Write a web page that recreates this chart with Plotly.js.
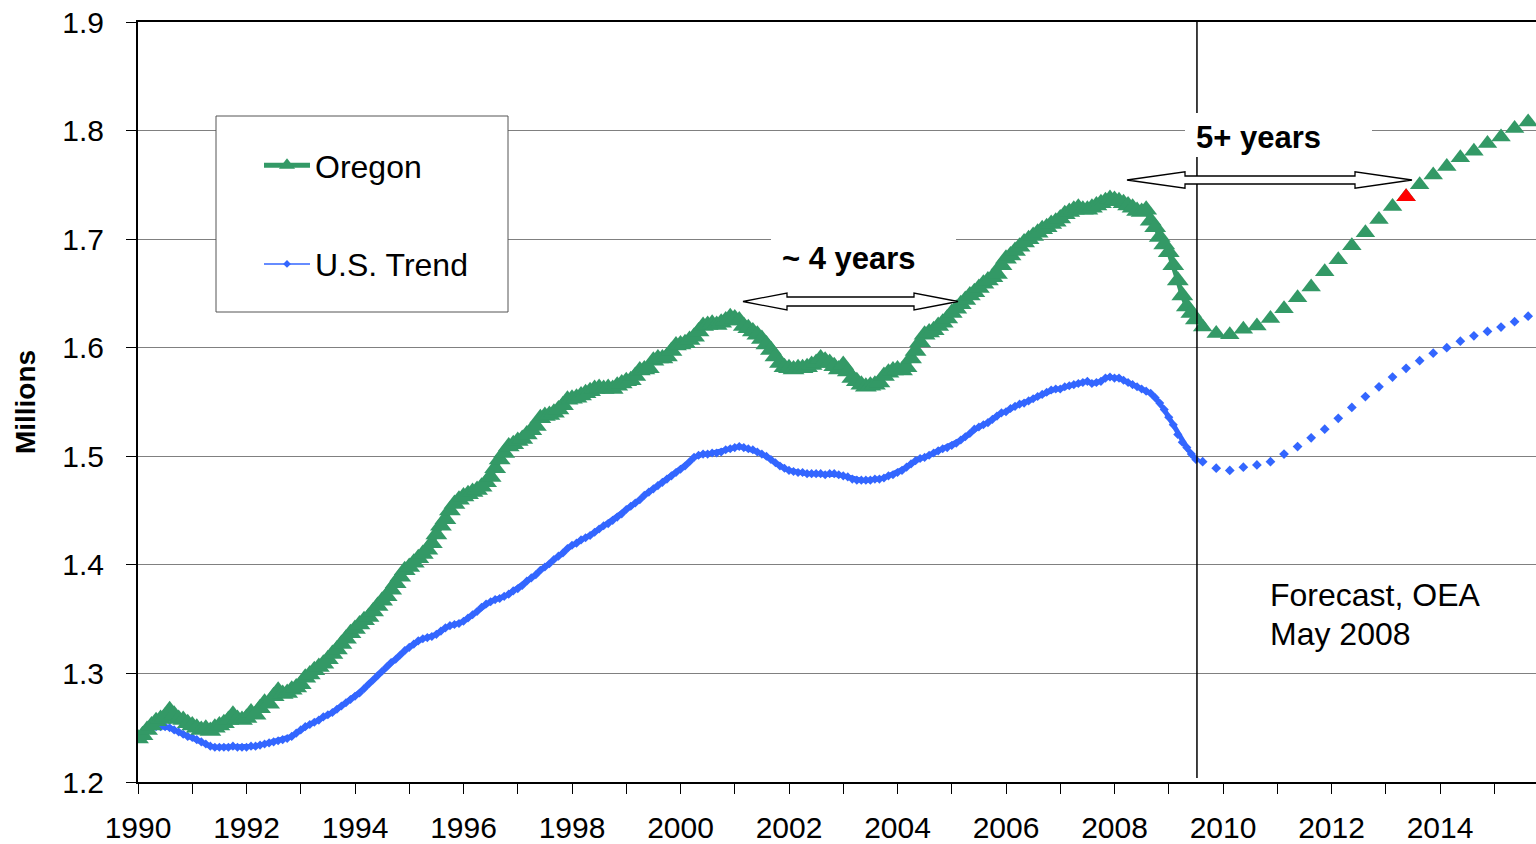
<!DOCTYPE html>
<html><head><meta charset="utf-8">
<script src="https://cdn.plot.ly/plotly-3.0.1.min.js"></script>
<style>html,body{margin:0;padding:0;background:#fff;overflow:hidden}#chart{width:1536px;height:844px}</style>
</head><body><div id="chart"></div>
<script>
// ---------- DATA ----------
const seriesNames = ['Oregon', 'U.S. Trend'];
const monthlyStartYear = 1990;           // first monthly observation (Jan 1990)
const oregonMonthly = [
  1.240,1.243,1.248,1.252,1.256,1.258,1.260,1.266,1.262,1.258,1.257,1.254,
  1.252,1.250,1.248,1.249,1.247,1.250,1.252,1.254,1.257,1.262,1.258,1.257,
  1.259,1.264,1.262,1.268,1.273,1.272,1.279,1.284,1.281,1.282,1.285,1.287,
  1.290,1.296,1.299,1.303,1.306,1.309,1.313,1.318,1.322,1.327,1.332,1.337,
  1.341,1.345,1.349,1.352,1.357,1.362,1.367,1.371,1.377,1.383,1.389,1.395,
  1.398,1.402,1.406,1.410,1.414,1.420,1.428,1.436,1.442,1.450,1.456,1.460,
  1.463,1.465,1.467,1.469,1.472,1.476,1.481,1.489,1.497,1.503,1.509,1.511,
  1.514,1.516,1.520,1.524,1.528,1.535,1.537,1.538,1.540,1.543,1.547,1.552,
  1.553,1.554,1.556,1.558,1.560,1.562,1.563,1.562,1.563,1.562,1.565,1.567,
  1.569,1.570,1.574,1.579,1.580,1.581,1.588,1.590,1.590,1.592,1.597,1.602,
  1.603,1.604,1.607,1.610,1.615,1.620,1.621,1.622,1.621,1.623,1.625,1.628,
  1.627,1.625,1.620,1.618,1.615,1.612,1.608,1.603,1.598,1.592,1.586,1.582,
  1.581,1.580,1.581,1.581,1.582,1.584,1.586,1.590,1.588,1.586,1.583,1.580,
  1.584,1.578,1.572,1.569,1.566,1.564,1.565,1.566,1.568,1.574,1.577,1.579,
  1.580,1.579,1.582,1.590,1.597,1.605,1.612,1.614,1.616,1.620,1.623,1.627,
  1.632,1.636,1.640,1.644,1.648,1.651,1.655,1.659,1.662,1.665,1.668,1.676,
  1.682,1.685,1.689,1.693,1.697,1.700,1.703,1.706,1.709,1.711,1.714,1.716,
  1.719,1.723,1.725,1.727,1.729,1.727,1.727,1.729,1.731,1.733,1.735,1.737,
  1.736,1.735,1.733,1.731,1.729,1.726,1.725,1.727,1.717,1.711,1.702,1.695,
  1.688,1.676,1.662,1.648,1.638,1.632,1.626
];
const usMonthly = [
  1.242,1.245,1.248,1.250,1.251,1.251,1.251,1.250,1.248,1.246,1.244,1.242,
  1.241,1.239,1.237,1.235,1.233,1.232,1.232,1.232,1.232,1.233,1.232,1.232,
  1.232,1.233,1.233,1.234,1.235,1.236,1.237,1.238,1.239,1.240,1.242,1.245,
  1.248,1.251,1.253,1.255,1.257,1.260,1.262,1.264,1.267,1.270,1.273,1.276,
  1.279,1.282,1.286,1.290,1.294,1.298,1.302,1.306,1.310,1.313,1.317,1.321,
  1.324,1.327,1.330,1.332,1.333,1.334,1.336,1.339,1.342,1.344,1.345,1.346,
  1.348,1.351,1.354,1.357,1.361,1.364,1.366,1.368,1.369,1.371,1.373,1.376,
  1.378,1.381,1.385,1.388,1.391,1.395,1.398,1.401,1.405,1.408,1.411,1.415,
  1.418,1.420,1.423,1.425,1.427,1.430,1.433,1.436,1.438,1.441,1.444,1.447,
  1.451,1.454,1.457,1.460,1.464,1.467,1.470,1.473,1.476,1.479,1.482,1.485,
  1.488,1.491,1.495,1.499,1.501,1.502,1.502,1.503,1.503,1.504,1.506,1.507,
  1.508,1.509,1.508,1.507,1.506,1.504,1.502,1.500,1.497,1.494,1.491,1.489,
  1.487,1.486,1.485,1.485,1.484,1.484,1.484,1.484,1.483,1.484,1.484,1.483,
  1.482,1.481,1.479,1.478,1.478,1.478,1.478,1.479,1.479,1.480,1.482,1.483,
  1.485,1.487,1.490,1.493,1.496,1.498,1.499,1.501,1.503,1.505,1.507,1.508,
  1.510,1.512,1.515,1.518,1.521,1.525,1.527,1.529,1.531,1.534,1.537,1.540,
  1.541,1.544,1.546,1.548,1.549,1.551,1.553,1.555,1.557,1.559,1.561,1.562,
  1.562,1.564,1.565,1.566,1.567,1.568,1.569,1.567,1.568,1.569,1.572,1.573,
  1.572,1.572,1.570,1.568,1.566,1.564,1.562,1.560,1.558,1.554,1.549,1.543,
  1.536,1.529,1.520,1.513,1.508,1.502,1.497
];
const forecastStartYear = 2009.625;       // first quarterly forecast point
const oregonForecast = [1.619,1.613,1.612,1.617,1.620,1.627,1.636,1.646,1.656,1.670,1.681,1.694,1.706,1.718,1.730,1.739,1.750,1.759,1.767,1.775,1.781,1.788,1.794,1.802,1.808];
const usForecast     = [1.495,1.489,1.487,1.490,1.492,1.495,1.502,1.509,1.517,1.525,1.535,1.545,1.555,1.564,1.573,1.581,1.588,1.595,1.600,1.606,1.611,1.615,1.619,1.624,1.629];
const highlightIndex = 15;                // forecast quarter back at the pre-recession peak (red)
const tickYears  = [1990,1991,1992,1993,1994,1995,1996,1997,1998,1999,2000,2001,2002,2003,2004,2005,2006,2007,2008,2009,2010,2011,2012,2013,2014,2015];
const tickLabels = ['1990','','1992','','1994','','1996','','1998','','2000','','2002','','2004','','2006','','2008','','2010','','2012','','2014',''];
const yTicks = [1.2,1.3,1.4,1.5,1.6,1.7,1.8,1.9];
const forecastLineYear = 2009.52;
const labelTexts = {four:'~ 4 years', five:'5+ years', f1:'Forecast, OEA', f2:'May 2008', ytitle:'Millions'};

// ---------- GEOMETRY ----------
const W = 1536, H = 844, ML = 138, MT = 22, MR = 0, MB = 62;
const PW = W - ML - MR, PH = H - MT - MB;
const XR = [1990, 1990 + PW / 54.25], YR = [1.2, 1.9];
const px2x = p => XR[0] + (p - ML) / PW * (XR[1] - XR[0]);
const py2y = p => YR[1] - (p - MT) / PH * (YR[1] - YR[0]);
const px2paper = p => (p - ML) / PW;
const py2paper = p => (H - MB - p) / PH;

const GREEN = '#339966', BLUE = '#3366ff', RED = '#ff0000';
const FONT = 'Liberation Sans, Arial, Helvetica, sans-serif';

const mX = oregonMonthly.map((_, i) => monthlyStartYear + i / 12);
const uX = usMonthly.map((_, i) => monthlyStartYear + i / 12);
const fX = oregonForecast.map((_, i) => forecastStartYear + i * 0.25);

const traces = [
  {x: uX, y: usMonthly, mode: 'lines+markers', line: {color: BLUE, width: 5}, marker: {symbol: 'diamond', size: 7, color: BLUE}, showlegend: false},
  {x: fX, y: usForecast, mode: 'markers', marker: {symbol: 'diamond', size: 7.5, color: BLUE}, showlegend: false},
  {x: mX, y: oregonMonthly, mode: 'lines+markers', line: {color: GREEN, width: 5}, marker: {symbol: 'triangle-up', size: 19, color: GREEN}, showlegend: false},
  {x: fX, y: oregonForecast, mode: 'markers', marker: {symbol: 'triangle-up', size: 17, color: GREEN}, showlegend: false},
  {x: [fX[highlightIndex]], y: [oregonForecast[highlightIndex]], mode: 'markers', marker: {symbol: 'triangle-up', size: 17, color: RED}, showlegend: false},
  // legend entries
  {x: [null], y: [null], name: seriesNames[0], mode: 'lines+markers', line: {color: GREEN, width: 5}, marker: {symbol: 'triangle-up', size: 14, color: GREEN}, legendgroup: 'a'},
  {x: [null], y: [null], name: seriesNames[1], mode: 'lines+markers', line: {color: BLUE, width: 1.5}, marker: {symbol: 'diamond', size: 6, color: BLUE}, legendgroup: 'b'}
];

function arrowPath(tipL, tipR, baseL, baseR, yc, sh, hh) {
  const pts = [[tipL, yc], [baseL, yc - hh], [baseL, yc - sh], [baseR, yc - sh], [baseR, yc - hh], [tipR, yc],
               [baseR, yc + hh], [baseR, yc + sh], [baseL, yc + sh], [baseL, yc + hh]];
  return pts.map((p, i) => (i ? 'L' : 'M') + px2x(p[0]).toFixed(4) + ',' + py2y(p[1]).toFixed(5)).join(' ') + ' Z';
}

const shapes = [
  {type: 'line', xref: 'x', yref: 'y', x0: forecastLineYear, x1: forecastLineYear, y0: py2y(778), y1: YR[1], line: {color: '#000', width: 1.5}, layer: 'above'},
  {type: 'rect', xref: 'x', yref: 'y', x0: px2x(1185), x1: px2x(1372), y0: py2y(157), y1: py2y(113), fillcolor: '#fff', line: {width: 0}, layer: 'above'},
  {type: 'rect', xref: 'x', yref: 'y', x0: px2x(771), x1: px2x(956), y0: py2y(285), y1: py2y(230), fillcolor: '#fff', line: {width: 0}, layer: 'above'},
  {type: 'path', xref: 'x', yref: 'y', path: arrowPath(743, 958, 787, 914, 301.5, 4.5, 8.5), fillcolor: '#fff', line: {color: '#000', width: 1.3}, layer: 'above'},
  {type: 'path', xref: 'x', yref: 'y', path: arrowPath(1127, 1412, 1185, 1355, 180, 4, 8.2), fillcolor: '#fff', line: {color: '#000', width: 1.3}, layer: 'above'},
  // legend frame
  {type: 'rect', xref: 'paper', yref: 'paper', x0: px2paper(216), x1: px2paper(508), y0: py2paper(312), y1: py2paper(116), fillcolor: '#fff', line: {color: '#555', width: 1}, layer: 'above'}
];

const annotations = [
  {xref: 'x', yref: 'y', x: px2x(848.5), y: py2y(258), text: '<b>' + labelTexts.four + '</b>', showarrow: false, font: {family: FONT, size: 31, color: '#000'}},
  {xref: 'x', yref: 'y', x: px2x(1258), y: py2y(137), text: '<b>' + labelTexts.five + '</b>', showarrow: false, font: {family: FONT, size: 31, color: '#000'}},
  {xref: 'x', yref: 'y', x: px2x(1268), y: py2y(595), xanchor: 'left', text: labelTexts.f1, showarrow: false, font: {family: FONT, size: 32, color: '#000'}},
  {xref: 'x', yref: 'y', x: px2x(1268), y: py2y(634), xanchor: 'left', text: labelTexts.f2, showarrow: false, font: {family: FONT, size: 32, color: '#000'}}
];

const layout = {
  width: W, height: H,
  margin: {l: ML, r: MR, t: MT, b: MB, pad: 0},
  paper_bgcolor: '#fff', plot_bgcolor: '#fff',
  font: {family: FONT, color: '#000'},
  showlegend: true,
  legend: {x: px2paper(259), y: py2paper(138), xanchor: 'left', yanchor: 'top', bgcolor: 'rgba(0,0,0,0)', borderwidth: 0,
           font: {family: FONT, size: 32, color: '#000'}, tracegroupgap: 54, itemwidth: 46},
  xaxis: {range: XR, tickvals: tickYears, ticktext: tickLabels, ticks: 'outside', ticklen: 10, tickwidth: 1, tickcolor: '#000',
          showline: true, linecolor: '#000', linewidth: 2, mirror: true, showgrid: false, zeroline: false,
          tickfont: {family: FONT, size: 30, color: '#000'}, ticklabelstandoff: 8, fixedrange: true},
  yaxis: {range: YR, tickvals: yTicks, tickformat: '.1f', ticks: 'outside', ticklen: 10, tickwidth: 1, tickcolor: '#000',
          showline: true, linecolor: '#000', linewidth: 2, showgrid: true, gridcolor: '#808080', gridwidth: 1, zeroline: false,
          tickfont: {family: FONT, size: 30, color: '#000'}, ticklabelstandoff: 16,
          title: {text: '<b>' + labelTexts.ytitle + '</b>', font: {family: FONT, size: 28, color: '#000'}, standoff: 18}, fixedrange: true},
  shapes: shapes, annotations: annotations, hovermode: false
};

Plotly.newPlot('chart', traces, layout, {staticPlot: true, displayModeBar: false});
</script></body></html>
